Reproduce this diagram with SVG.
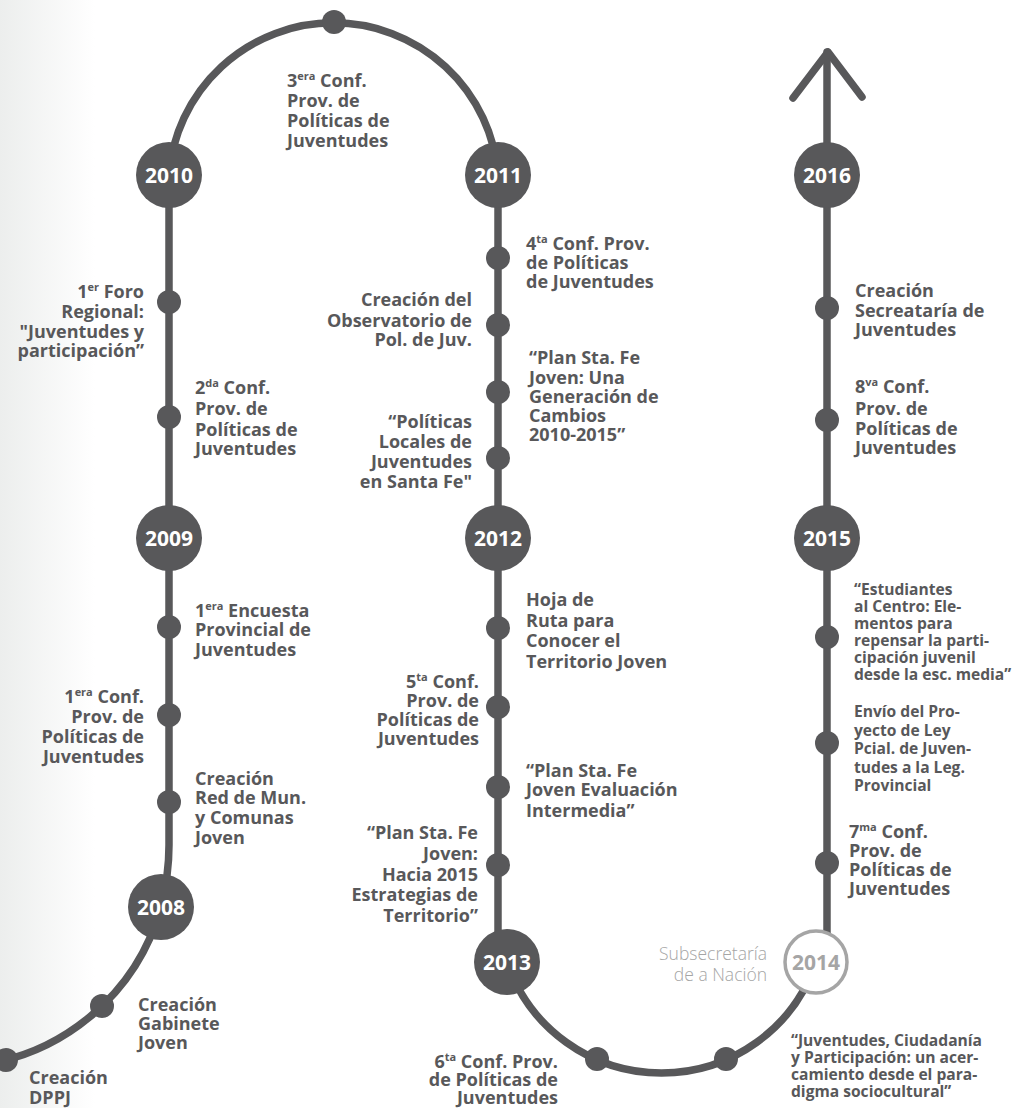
<svg xmlns="http://www.w3.org/2000/svg" width="1014" height="1108" viewBox="0 0 1014 1108">
<defs>
<linearGradient id="bg" x1="0" y1="0" x2="1" y2="0">
<stop offset="0" stop-color="#eceeed"/>
<stop offset="1" stop-color="#ffffff"/>
</linearGradient>
<style>
.ln{fill:none;stroke:#58585a;stroke-width:7.5;stroke-linecap:round;stroke-linejoin:round}
.dot{fill:#58585a}
.yr{fill:#58585a}
.yt{font-family:"Open Sans","Noto Sans",sans-serif;font-weight:700;font-size:21px;fill:#ffffff;text-anchor:middle}
.t{font-family:"Open Sans","Noto Sans",sans-serif;font-weight:700;font-size:18px;fill:#58585a}
.s{font-size:15.6px}
.e{text-anchor:end}
.sup{font-size:11px}
.gr{font-family:"Open Sans","Noto Sans",sans-serif;font-weight:300;font-size:17.5px;fill:#a5a5a5;text-anchor:end}
</style>
</defs>
<rect x="0" y="0" width="1014" height="1108" fill="#ffffff"/>
<rect x="0" y="0" width="95" height="1108" fill="url(#bg)"/>

<g id="connectors">
<path class="ln" d="M169,175 V845 Q169,875 161,907"/>
<path class="ln" d="M169,175 A165,165 0 0 1 498,175"/>
<path class="ln" d="M498,175 V962"/>
<path class="ln" d="M507,962 A163,163 0 0 0 816,962"/>
<path class="ln" d="M827,962 V52"/>
<path class="ln" d="M793,98 L828,52 L862,97"/>
<path class="ln" d="M161,907 A218,218 0 0 1 -30,1066"/>
</g>

<g id="y2010"><circle class="yr" cx="169" cy="175" r="33"/><text class="yt" x="169" y="183">2010</text></g>
<g id="y2009"><circle class="yr" cx="169" cy="538" r="33"/><text class="yt" x="169" y="546">2009</text></g>
<g id="y2008"><circle class="yr" cx="161" cy="907" r="33"/><text class="yt" x="161" y="915">2008</text></g>
<g id="y2011"><circle class="yr" cx="498" cy="175" r="33"/><text class="yt" x="498" y="183">2011</text></g>
<g id="y2012"><circle class="yr" cx="498" cy="538" r="33"/><text class="yt" x="498" y="546">2012</text></g>
<g id="y2013"><circle class="yr" cx="507" cy="962" r="33"/><text class="yt" x="507" y="970">2013</text></g>
<g id="y2016"><circle class="yr" cx="827" cy="175" r="33"/><text class="yt" x="827" y="183">2016</text></g>
<g id="y2015"><circle class="yr" cx="827" cy="538" r="33"/><text class="yt" x="827" y="546">2015</text></g>
<g id="y2014"><circle cx="816" cy="962" r="31" fill="#ffffff" stroke="#a5a5a5" stroke-width="3.5"/><text class="yt" x="816" y="970" style="fill:#a5a5a5">2014</text></g>

<g id="e-3era"><circle class="dot" cx="334" cy="22" r="12"/>
<text class="t" x="287" y="87"><tspan>3</tspan><tspan class="sup" dy="-7">era</tspan><tspan dy="7"> Conf.</tspan><tspan x="287" y="107">Prov. de</tspan><tspan x="287" y="127">Políticas de</tspan><tspan x="287" y="147">Juventudes</tspan></text></g>

<g id="e-1erforo"><circle class="dot" cx="169" cy="302" r="12"/>
<text class="t e" x="144" y="298"><tspan>1</tspan><tspan class="sup" dy="-7">er</tspan><tspan dy="7"> Foro</tspan><tspan x="144" y="318">Regional:</tspan><tspan x="144" y="338">"Juventudes y</tspan><tspan x="144" y="357">participación”</tspan></text></g>

<g id="e-2da"><circle class="dot" cx="169" cy="417" r="12"/>
<text class="t" x="195" y="394"><tspan>2</tspan><tspan class="sup" dy="-7">da</tspan><tspan dy="7"> Conf.</tspan><tspan x="195" y="415">Prov. de</tspan><tspan x="195" y="436">Políticas de</tspan><tspan x="195" y="455">Juventudes</tspan></text></g>

<g id="e-encuesta"><circle class="dot" cx="169" cy="627" r="12"/>
<text class="t" x="195" y="617"><tspan>1</tspan><tspan class="sup" dy="-7">era</tspan><tspan dy="7"> Encuesta</tspan><tspan x="195" y="636">Provincial de</tspan><tspan x="195" y="656">Juventudes</tspan></text></g>

<g id="e-1era"><circle class="dot" cx="169" cy="715" r="12"/>
<text class="t e" x="144" y="703"><tspan>1</tspan><tspan class="sup" dy="-7">era</tspan><tspan dy="7"> Conf.</tspan><tspan x="144" y="723">Prov. de</tspan><tspan x="144" y="743">Políticas de</tspan><tspan x="144" y="763">Juventudes</tspan></text></g>

<g id="e-red"><circle class="dot" cx="169" cy="802" r="12"/>
<text class="t" x="195" y="785"><tspan>Creación</tspan><tspan x="195" y="804">Red de Mun.</tspan><tspan x="195" y="824">y Comunas</tspan><tspan x="195" y="844">Joven</tspan></text></g>

<g id="e-gabinete"><circle class="dot" cx="102" cy="1006" r="12"/>
<text class="t" x="138" y="1011"><tspan>Creación</tspan><tspan x="138" y="1030">Gabinete</tspan><tspan x="138" y="1049">Joven</tspan></text></g>

<g id="e-dppj"><circle class="dot" cx="6" cy="1060" r="12"/>
<text class="t" x="29" y="1084"><tspan>Creación</tspan><tspan x="29" y="1104">DPPJ</tspan></text></g>

<g id="e-4ta"><circle class="dot" cx="498" cy="258" r="12"/>
<text class="t" x="526" y="250"><tspan>4</tspan><tspan class="sup" dy="-7">ta</tspan><tspan dy="7"> Conf. Prov.</tspan><tspan x="526" y="269">de Políticas</tspan><tspan x="526" y="288">de Juventudes</tspan></text></g>

<g id="e-observatorio"><circle class="dot" cx="498" cy="325" r="12"/>
<text class="t e" x="472" y="306"><tspan>Creación del</tspan><tspan x="472" y="327">Observatorio de</tspan><tspan x="472" y="346">Pol. de Juv.</tspan></text></g>

<g id="e-generacion"><circle class="dot" cx="498" cy="392" r="12"/>
<text class="t" x="529" y="364"><tspan>“Plan Sta. Fe</tspan><tspan x="529" y="384">Joven: Una</tspan><tspan x="529" y="403">Generación de</tspan><tspan x="529" y="422">Cambios</tspan><tspan x="529" y="441">2010-2015”</tspan></text></g>

<g id="e-locales"><circle class="dot" cx="498" cy="458" r="12"/>
<text class="t e" x="472" y="428"><tspan>“Políticas</tspan><tspan x="472" y="448">Locales de</tspan><tspan x="472" y="468">Juventudes</tspan><tspan x="472" y="488">en Santa Fe"</tspan></text></g>

<g id="e-hoja"><circle class="dot" cx="498" cy="628" r="12"/>
<text class="t" x="526" y="606"><tspan>Hoja de</tspan><tspan x="526" y="627">Ruta para</tspan><tspan x="526" y="647">Conocer el</tspan><tspan x="526" y="668">Territorio Joven</tspan></text></g>

<g id="e-5ta"><circle class="dot" cx="498" cy="707" r="12"/>
<text class="t e" x="479" y="688"><tspan>5</tspan><tspan class="sup" dy="-7">ta</tspan><tspan dy="7"> Conf.</tspan><tspan x="479" y="707">Prov. de</tspan><tspan x="479" y="726">Políticas de</tspan><tspan x="479" y="745">Juventudes</tspan></text></g>

<g id="e-evaluacion"><circle class="dot" cx="498" cy="787" r="12"/>
<text class="t" x="526" y="777"><tspan>“Plan Sta. Fe</tspan><tspan x="526" y="796">Joven Evaluación</tspan><tspan x="526" y="817">Intermedia”</tspan></text></g>

<g id="e-hacia"><circle class="dot" cx="498" cy="865" r="12"/>
<text class="t e" x="478" y="839"><tspan>“Plan Sta. Fe</tspan><tspan x="478" y="860">Joven:</tspan><tspan x="478" y="881">Hacia 2015</tspan><tspan x="478" y="901">Estrategias de</tspan><tspan x="478" y="922">Territorio”</tspan></text></g>

<g id="e-6ta"><circle class="dot" cx="597" cy="1059" r="12"/>
<text class="t e" x="558" y="1068"><tspan>6</tspan><tspan class="sup" dy="-7">ta</tspan><tspan dy="7"> Conf. Prov.</tspan><tspan x="558" y="1086">de Políticas de</tspan><tspan x="558" y="1104">Juventudes</tspan></text></g>

<g id="e-subsecretaria">
<text class="gr" x="767" y="960"><tspan>Subsecretaría</tspan><tspan x="767" y="981">de a Nación</tspan></text></g>

<g id="e-ciudadania"><circle class="dot" cx="726" cy="1059" r="12"/>
<text class="t s" x="791" y="1046"><tspan>“Juventudes, Ciudadanía</tspan><tspan x="791" y="1063">y Participación: un acer-</tspan><tspan x="791" y="1080">camiento desde el para-</tspan><tspan x="791" y="1097">digma sociocultural”</tspan></text></g>

<g id="e-secretaria"><circle class="dot" cx="827" cy="308" r="12"/>
<text class="t" x="855" y="297"><tspan>Creación</tspan><tspan x="855" y="317">Secreataría de</tspan><tspan x="855" y="336">Juventudes</tspan></text></g>

<g id="e-8va"><circle class="dot" cx="827" cy="420" r="12"/>
<text class="t" x="855" y="393"><tspan>8</tspan><tspan class="sup" dy="-7">va</tspan><tspan dy="7"> Conf.</tspan><tspan x="855" y="415">Prov. de</tspan><tspan x="855" y="435">Políticas de</tspan><tspan x="855" y="454">Juventudes</tspan></text></g>

<g id="e-estudiantes"><circle class="dot" cx="827" cy="637" r="12"/>
<text class="t s" x="854" y="595"><tspan>“Estudiantes</tspan><tspan x="854" y="612">al Centro: Ele-</tspan><tspan x="854" y="629">mentos para</tspan><tspan x="854" y="646">repensar la parti-</tspan><tspan x="854" y="663">cipación juvenil</tspan><tspan x="854" y="680">desde la esc. media”</tspan></text></g>

<g id="e-envio"><circle class="dot" cx="827" cy="743" r="12"/>
<text class="t s" x="854" y="717"><tspan>Envío del Pro-</tspan><tspan x="854" y="735.5">yecto de Ley</tspan><tspan x="854" y="754">Pcial. de Juven-</tspan><tspan x="854" y="772.5">tudes a la Leg.</tspan><tspan x="854" y="791">Provincial</tspan></text></g>

<g id="e-7ma"><circle class="dot" cx="827" cy="863" r="12"/>
<text class="t" x="849" y="838"><tspan>7</tspan><tspan class="sup" dy="-7">ma</tspan><tspan dy="7"> Conf.</tspan><tspan x="849" y="857">Prov. de</tspan><tspan x="849" y="876">Políticas de</tspan><tspan x="849" y="895">Juventudes</tspan></text></g>
</svg>
